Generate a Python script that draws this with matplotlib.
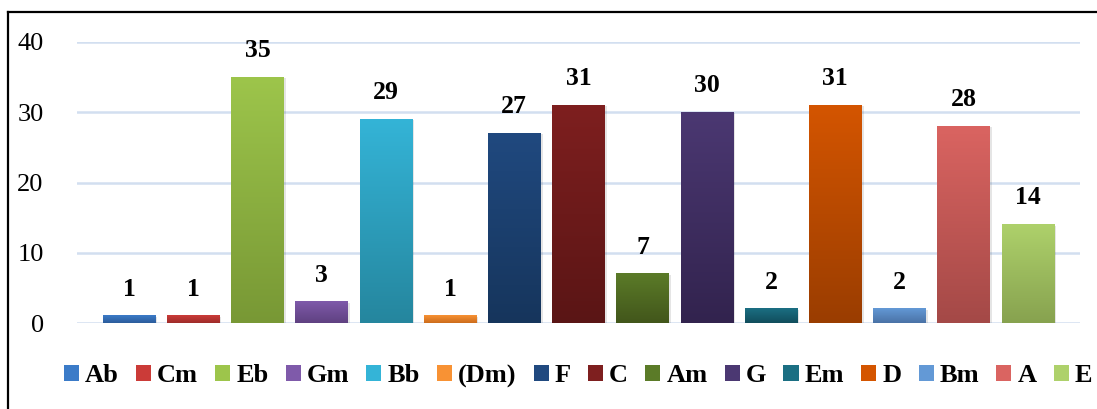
import numpy as np
import matplotlib
matplotlib.use("Agg")
import matplotlib.pyplot as plt
from matplotlib.colors import LinearSegmentedColormap
from matplotlib.patches import Patch
from matplotlib.lines import Line2D

plt.rcParams['font.family'] = ['Liberation Serif', 'DejaVu Serif']

chords = ["Ab", "Cm", "Eb", "Gm", "Bb", "(Dm)", "F", "C", "Am", "G", "Em", "D", "Bm", "A", "E"]
counts = [1, 1, 35, 3, 29, 1, 27, 31, 7, 30, 2, 31, 2, 28, 14]

# (top colour, bottom colour) of each bar's vertical gradient
top_colors = ["#3b7bc8", "#cb3b38", "#9dc54b", "#7f5aaa", "#34b4d7", "#f89234",
              "#20497f", "#7e1f1f", "#5b7b28", "#4b3872", "#1b6f83", "#d45500",
              "#6399d6", "#da6461", "#aed16b"]
bottom_colors = ["#2c5c9b", "#9e2c2a", "#789835", "#5f4181", "#25869e", "#cc6c1c",
                 "#16355c", "#5a1515", "#42561b", "#32234e", "#114d5c", "#9a3d00",
                 "#4a72a6", "#a44947", "#87a24f"]

fig = plt.figure(figsize=(10.97, 4.09), dpi=100)
ax = fig.add_axes([77 / 1097, 1 - 323 / 409, (1080 - 77) / 1097, (323 - 42) / 409])

x = np.arange(len(chords))
width = 0.82
bars = ax.bar(x, counts, width=width, color="none", zorder=3)

grad = np.linspace(1, 0, 256).reshape(-1, 1)
for i, b in enumerate(bars):
    x0, y0 = b.get_x(), b.get_y()
    w, h = b.get_width(), b.get_height()
    # soft drop shadow
    ax.bar(x0 + w / 2 + 0.03, h, width=w, bottom=-0.15, color="#000000",
           alpha=0.10, zorder=2, linewidth=0)
    cmap = LinearSegmentedColormap.from_list(chords[i], [bottom_colors[i], top_colors[i]])
    ax.imshow(grad, extent=[x0, x0 + w, y0, y0 + h], aspect="auto", cmap=cmap,
              origin="upper", zorder=3, interpolation="bilinear")
    ax.annotate(str(counts[i]), (x0 + w / 2, h), xytext=(0, 11), textcoords="offset points",
                ha="center", va="bottom", fontsize=18.5, fontweight="bold", color="black")

ax.set_xlim(-0.81, 14.81)
ax.set_ylim(0, 40)
ax.set_yticks([0, 10, 20, 30, 40])
ax.set_xticks([])
ax.tick_params(axis="y", length=0, pad=24, labelsize=19)
ax.grid(axis="y", color="#d2dff0", linewidth=1.8, zorder=0)
ax.set_axisbelow(True)
for s in ax.spines.values():
    s.set_visible(False)

handles = [Patch(facecolor=c, edgecolor="none") for c in top_colors]
fig.legend(handles, chords, loc="center", bbox_to_anchor=(578 / 1097, 1 - 376 / 409), ncol=15,
           frameon=False, prop={"weight": "bold", "size": 19},
           handlelength=0.57, handleheight=0.57, handletextpad=0.23, columnspacing=0.65,
           borderaxespad=0, borderpad=0)

# outer frame (top and left edges)
fig.add_artist(Line2D([8 / 1097, 8 / 1097], [0, 1 - 12 / 409], transform=fig.transFigure,
                      color="black", linewidth=1.6))
fig.add_artist(Line2D([8 / 1097, 1], [1 - 12 / 409, 1 - 12 / 409], transform=fig.transFigure,
                      color="black", linewidth=1.6))

fig.savefig("out.png", dpi=100)
